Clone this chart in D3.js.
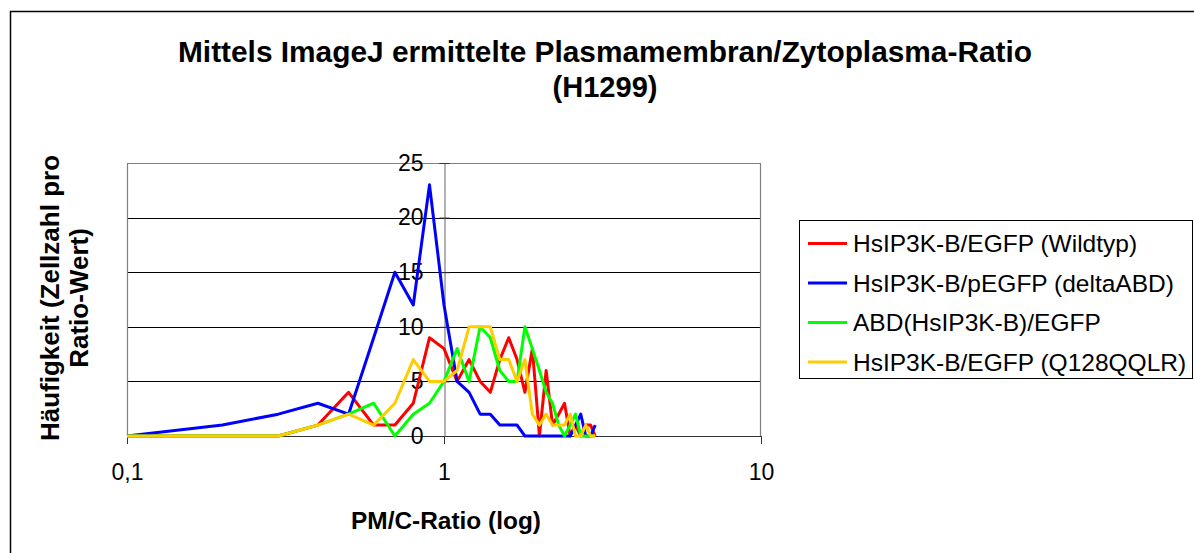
<!DOCTYPE html>
<html>
<head>
<meta charset="utf-8">
<script src="https://cdn.jsdelivr.net/npm/d3@7"></script>
<style>
  body { margin: 0; background: #fff; }
  svg { display: block; }
  text { font-family: "Liberation Sans", Arial, sans-serif; fill: #000; }
</style>
</head>
<body>
<svg id="chart" width="1194" height="553"></svg>
<script>
// PM/C ratio bins (x, log scale)
const ratioBins = [0.1, 0.2, 0.3, 0.4, 0.5, 0.6, 0.7, 0.8, 0.9, 1.0,
                   1.1, 1.2, 1.3, 1.4, 1.5, 1.6, 1.7, 1.8, 1.9, 2.0,
                   2.1, 2.2, 2.3, 2.4, 2.5, 2.6, 2.7, 2.8, 2.9, 3.0];

// cell counts per ratio bin
const wildtyp   = [0, 0, 0, 1, 4, 1, 1, 3, 9, 8,  5, 7, 5, 4, 7, 9, 7, 4, 8, 0,  6, 1, 2, 3, 0, 1, 0, 1, 1, 0];
const deltaABD  = [0, 1, 2, 3, 2, 9, 15, 12, 23, 12,  5, 4, 2, 2, 1, 1, 1, 0, 0, 0,  0, 0, 0, 0, 0, 1, 2, 0, 0, 1];
const abdEgfp   = [0, 0, 0, 1, 2, 3, 0, 2, 3, 5,  8, 5, 10, 9, 6, 5, 5, 10, 8, 6,  4, 3, 1, 0, 1, 2, 0, 0, 0, 0];
const q128qqlr  = [0, 0, 0, 1, 2, 1, 3, 7, 5, 5,  6, 10, 10, 10, 7, 7, 5, 7, 2, 1,  2, 1, 1, 1, 2, 0, 0, 1, 0, 0];

const seriesNames  = ["HsIP3K-B/EGFP (Wildtyp)", "HsIP3K-B/pEGFP (deltaABD)", "ABD(HsIP3K-B)/EGFP", "HsIP3K-B/EGFP (Q128QQLR)"];
const seriesValues = [wildtyp, deltaABD, abdEgfp, q128qqlr];
const seriesColors = ["#ff0000", "#0000ff", "#00ff00", "#ffcc00"];

const xTickValues = [0.1, 1, 10];
const xTickLabels = ["0,1", "1", "10"];
const yTickValues = [0, 5, 10, 15, 20, 25];

const titleLines = ["Mittels ImageJ ermittelte Plasmamembran/Zytoplasma-Ratio", "(H1299)"];
const titleWidths = [854, 105];
const xTitle = "PM/C-Ratio (log)";
const yTitleLines = ["Häufigkeit (Zellzahl pro", "Ratio-Wert)"];

const svg = d3.select("#chart");
const plot = { left: 127, right: 761, top: 163, bottom: 436 };

const x = d3.scaleLog().domain([0.1, 10]).range([plot.left, plot.right]);
const y = d3.scaleLinear().domain([0, 25]).range([plot.bottom, plot.top]);

// outer chart frame
svg.append("rect")
  .attr("x", 10.5).attr("y", 11.5)
  .attr("width", 1300).attr("height", 700)
  .attr("fill", "#fff").attr("stroke", "#000").attr("stroke-width", 1.5);

// title
svg.append("g").selectAll("text").data(titleLines).join("text")
  .attr("x", 605).attr("y", (d, i) => 62 + i * 35)
  .attr("text-anchor", "middle")
  .attr("font-size", 29).attr("font-weight", "bold")
  .attr("textLength", (d, i) => titleWidths[i]).attr("lengthAdjust", "spacingAndGlyphs")
  .text(d => d);

// horizontal gridlines
svg.append("g")
  .attr("transform", `translate(${plot.left},0)`)
  .call(d3.axisLeft(y).tickValues(yTickValues.slice(1)).tickSize(-(plot.right - plot.left)).tickFormat(""))
  .call(g => g.select(".domain").remove())
  .call(g => g.selectAll("line").attr("stroke", "#000").attr("shape-rendering", "crispEdges"));

// plot area border (left, top, right)
svg.append("path")
  .attr("d", `M${plot.left + 0.5},${plot.bottom}V${plot.top + 0.5}H${plot.right - 0.5}V${plot.bottom}`)
  .attr("fill", "none").attr("stroke", "#808080").attr("stroke-width", 1.2);

// x axis
svg.append("g")
  .attr("transform", `translate(0,${plot.bottom})`)
  .call(d3.axisBottom(x).tickValues(xTickValues).tickSize(8).tickPadding(20)
        .tickFormat((d, i) => xTickLabels[i]))
  .call(g => g.select(".domain").attr("stroke", "#333").attr("d", `M${plot.left},0.5H${plot.right}`))
  .call(g => g.selectAll("line").attr("stroke", "#333"))
  .call(g => g.selectAll("text").attr("font-size", 23).attr("font-family", "Liberation Sans, Arial, sans-serif"));

// y axis, crossing at ratio 1
const yAxisX = Math.round(x(1)) + 0.5;
svg.append("g")
  .attr("transform", `translate(${yAxisX},0)`)
  .call(d3.axisLeft(y).tickValues(yTickValues).tickSize(5).tickPadding(16))
  .call(g => g.select(".domain").attr("stroke", "#666"))
  .call(g => g.selectAll("line").attr("stroke", "#333"))
  .call(g => g.selectAll("text").attr("font-size", 23).attr("font-family", "Liberation Sans, Arial, sans-serif"));
svg.append("g")
  .attr("transform", `translate(${yAxisX},0)`)
  .call(d3.axisRight(y).tickValues(yTickValues).tickSize(5).tickFormat(""))
  .call(g => g.select(".domain").remove())
  .call(g => g.selectAll("line").attr("stroke", "#333"));

// data lines
const line = d3.line()
  .x((d, i) => x(ratioBins[i]))
  .y(d => y(d));

svg.append("g").selectAll("path").data(seriesValues).join("path")
  .attr("d", d => line(d))
  .attr("fill", "none")
  .attr("stroke", (d, i) => seriesColors[i])
  .attr("stroke-width", 3)
  .attr("stroke-linejoin", "round");

// axis titles
svg.append("text")
  .attr("x", 446).attr("y", 529)
  .attr("text-anchor", "middle")
  .attr("font-size", 24).attr("font-weight", "bold")
  .attr("textLength", 190).attr("lengthAdjust", "spacingAndGlyphs")
  .text(xTitle);

svg.append("g").selectAll("text").data(yTitleLines).join("text")
  .attr("transform", (d, i) => `translate(${59 + i * 29},298) rotate(-90)`)
  .attr("text-anchor", "middle")
  .attr("font-size", 26).attr("font-weight", "bold")
  .text(d => d);

// legend
const legend = svg.append("g");
legend.append("rect")
  .attr("x", 799.5).attr("y", 220.5)
  .attr("width", 393).attr("height", 158)
  .attr("fill", "#fff").attr("stroke", "#000").attr("stroke-width", 1);

const rows = legend.selectAll("g.row").data(seriesNames).join("g")
  .attr("class", "row")
  .attr("transform", (d, i) => `translate(0,${243.5 + i * 39.5})`);
rows.append("line")
  .attr("x1", 808).attr("x2", 847)
  .attr("stroke", (d, i) => seriesColors[i]).attr("stroke-width", 3);
rows.append("text")
  .attr("x", 853).attr("dy", "0.36em")
  .attr("font-size", 24.5)
  .text(d => d);
</script>
</body>
</html>
